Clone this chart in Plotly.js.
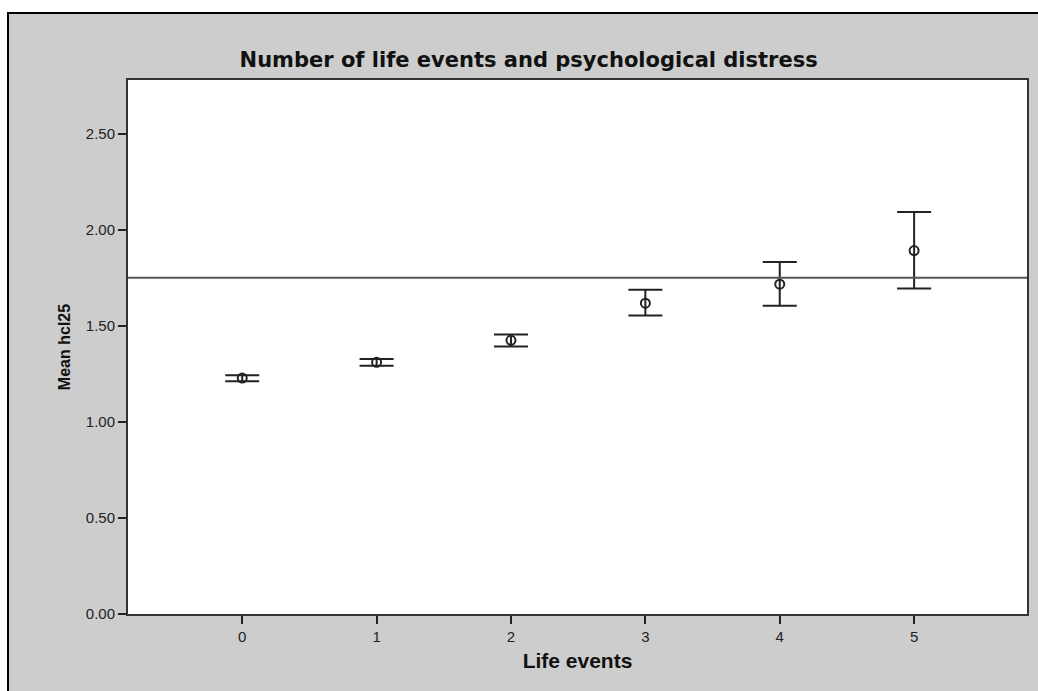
<!DOCTYPE html>
<html>
<head>
<meta charset="utf-8">
<script src="https://cdn.plot.ly/plotly-3.0.1.min.js"></script>
<style>
  html, body { margin: 0; padding: 0; background: #ffffff; width: 1038px; height: 691px; overflow: hidden; }
  #frame { position: absolute; left: 7px; top: 12px; width: 1031px; height: 679px;
           border-top: 2px solid #000; border-left: 2px solid #000; box-sizing: border-box; background: #cdcdcd; }
  #chart { position: absolute; left: 0; top: 0; width: 1029px; height: 677px; }
</style>
</head>
<body>
<div id="frame"><div id="chart"></div></div>
<script>
// Data
const lifeEvents = [0, 1, 2, 3, 4, 5];
const meanHcl25 = [1.228, 1.310, 1.425, 1.618, 1.717, 1.892];
const upperCI   = [1.243, 1.327, 1.455, 1.688, 1.833, 2.093];
const lowerCI   = [1.212, 1.293, 1.392, 1.554, 1.605, 1.694];
const referenceValue = 1.75;
const yTickValues = [0, 0.5, 1, 1.5, 2, 2.5];
const xTickLabels = ["0", "1", "2", "3", "4", "5"];

const errPlus = upperCI.map((u, i) => u - meanHcl25[i]);
const errMinus = lowerCI.map((l, i) => meanHcl25[i] - l);

const trace = {
  type: 'scatter',
  mode: 'markers',
  x: lifeEvents,
  y: meanHcl25,
  marker: { symbol: 'circle-open', size: 9, color: '#222', line: { width: 2, color: '#222' } },
  error_y: {
    type: 'data', symmetric: false,
    array: errPlus, arrayminus: errMinus,
    width: 17, thickness: 2, color: '#222'
  },
  hoverinfo: 'x+y',
  showlegend: false
};

const layout = {
  width: 1029, height: 677,
  paper_bgcolor: '#cdcdcd',
  plot_bgcolor: '#ffffff',
  margin: { l: 119, r: 11, t: 66, b: 77 },
  title: {
    text: 'Number of life events and psychological distress',
    font: { family: 'DejaVu Sans', size: 21, color: '#111', weight: 'bold' },
    x: 0.505, xref: 'container', xanchor: 'center',
    y: 0.932, yref: 'container', yanchor: 'middle'
  },
  xaxis: {
    range: [-0.85, 5.84],
    tickvals: lifeEvents, ticktext: xTickLabels,
    showgrid: false, zeroline: false,
    showline: true, mirror: true, linecolor: '#333', linewidth: 2,
    ticks: 'outside', ticklen: 8, tickwidth: 2, tickcolor: '#222',
    tickfont: { family: 'Liberation Sans', size: 15, color: '#222' },
    title: { text: 'Life events', standoff: 9,
             font: { family: 'Liberation Sans', size: 21, color: '#111', weight: 'bold' } }
  },
  yaxis: {
    range: [0, 2.78],
    tickvals: yTickValues, tickformat: '.2f',
    showgrid: false, zeroline: false,
    showline: true, mirror: true, linecolor: '#333', linewidth: 2,
    ticks: 'outside', ticklen: 8, tickwidth: 2, tickcolor: '#222',
    tickfont: { family: 'Liberation Sans', size: 15, color: '#222' },
    title: { text: 'Mean hcl25', standoff: 11,
             font: { family: 'Liberation Sans', size: 16, color: '#111', weight: 'bold' } }
  },
  shapes: [
    { type: 'line', xref: 'paper', x0: 0, x1: 1, yref: 'y', y0: referenceValue, y1: referenceValue,
      line: { color: '#555', width: 2 } }
  ]
};

Plotly.newPlot('chart', [trace], layout, { displayModeBar: false, staticPlot: true });
</script>
</body>
</html>
